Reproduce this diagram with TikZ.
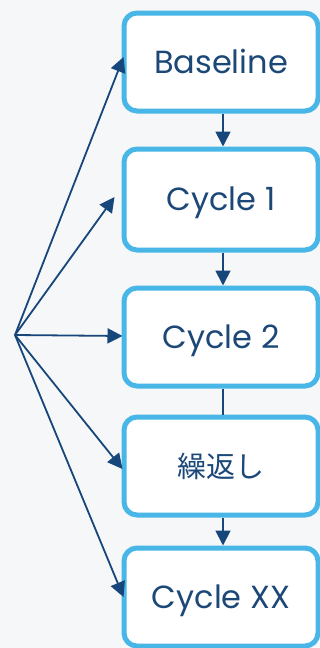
\documentclass[tikz,border=0pt]{standalone}
\usepackage{fontspec}
\setmainfont{Poppins}
\newfontfamily\cjkfont{Noto Sans CJK JP}
\usetikzlibrary{arrows.meta}
\definecolor{boxblue}{RGB}{72,182,230}
\definecolor{navy}{RGB}{22,70,122}
\definecolor{txtnavy}{RGB}{28,72,120}
\definecolor{bgc}{RGB}{246,247,248}
\begin{document}
\begin{tikzpicture}[x=1pt,y=-1pt,
  stage/.style={draw=boxblue, line width=5pt, rounded corners=13pt, fill=white,
    minimum width=194pt, minimum height=98pt, inner sep=0pt,
    text height=22pt, text depth=0pt,
    text=txtnavy, font=\fontsize{32}{36}\selectfont},
  link/.style={draw=navy, line width=1.8pt, -{Triangle[length=15pt,width=15pt]}},
  plain/.style={draw=navy, line width=1.8pt}]
\fill[bgc] (0,0) rectangle (320,648);
\useasboundingbox (0,0) rectangle (320,648);
\node[stage] (b1) at (221,62) {Baseline};
\node[stage, minimum height=101pt] (b2) at (221,199.5) {Cycle 1};
\node[stage] (b3) at (221,337) {Cycle 2};
\node[stage, text height=23pt, font=\cjkfont\fontsize{29}{32}\selectfont] (b4) at (221,466) {繰返し};
\node[stage] (b5) at (221,597) {Cycle XX};
\coordinate (o) at (15,335);
\draw[link] ([xshift=2pt]b1.south) -- ([xshift=2pt]b2.north);
\draw[link] ([xshift=2pt]b2.south) -- ([xshift=2pt]b3.north);
\draw[plain] ([xshift=2pt]b3.south) -- ([xshift=2pt]b4.north);
\draw[link] ([xshift=2pt]b4.south) -- ([xshift=2pt]b5.north);
\draw[link] (o) -- ([xshift=2pt,yshift=5pt]b1.west);
\draw[link] (o) -- ([xshift=-7pt,yshift=2.5pt]b2.west);
\draw[link] (o) -- ([xshift=1pt,yshift=1pt]b3.west);
\draw[link] (o) -- ([xshift=1pt,yshift=-3pt]b4.west);
\draw[link] (o) -- ([xshift=2pt]b5.west);
\end{tikzpicture}
\end{document}
